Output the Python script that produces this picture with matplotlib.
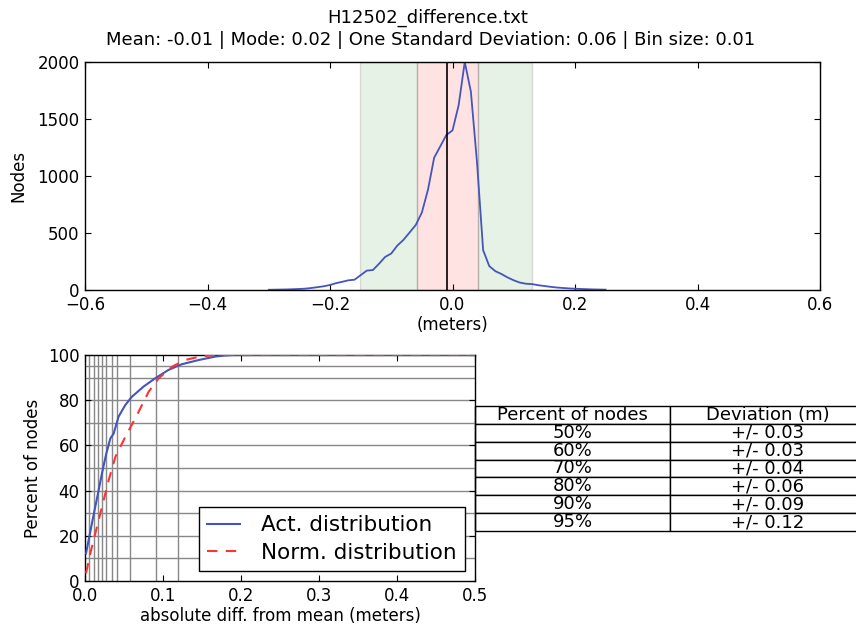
import matplotlib
matplotlib.use("Agg")
import matplotlib.pyplot as plt

# ---------------- data ----------------
title_file = "H12502_difference.txt"
title_stats = "Mean: -0.01 | Mode: 0.02 | One Standard Deviation: 0.06 | Bin size: 0.01"

hist_x = [-0.30, -0.29, -0.28, -0.27, -0.26, -0.25, -0.24, -0.23, -0.22, -0.21,
          -0.20, -0.19, -0.18, -0.17, -0.16, -0.15, -0.14, -0.13, -0.12, -0.11,
          -0.10, -0.09, -0.08, -0.07, -0.06, -0.05, -0.04, -0.03, -0.02, -0.01,
          0.00, 0.01, 0.02, 0.03, 0.04, 0.05, 0.06, 0.07, 0.08, 0.09,
          0.10, 0.11, 0.12, 0.13, 0.14, 0.15, 0.16, 0.17, 0.18, 0.19,
          0.20, 0.21, 0.22, 0.23, 0.24, 0.25]
hist_y = [2, 3, 4, 5, 7, 9, 12, 18, 25, 33,
          44, 60, 72, 85, 90, 130, 170, 175, 230, 290,
          320, 390, 440, 505, 570, 680, 880, 1160, 1260, 1360,
          1400, 1620, 2000, 1740, 1120, 350, 210, 165, 140, 110,
          85, 65, 55, 52, 42, 35, 28, 22, 18, 14,
          11, 9, 7, 5, 4, 3]

mean_val = -0.009
band_inner = [-0.058, 0.042]
band_outer = [-0.151, 0.130]

act_x = [0.0013, 0.0055, 0.011, 0.0167, 0.0218, 0.0269, 0.0325, 0.0367, 0.043, 0.0517,
         0.060, 0.075, 0.090, 0.107, 0.124, 0.146, 0.167, 0.180, 0.190, 0.5]
act_y = [12.2, 19.6, 29.2, 38.8, 47.7, 55.8, 63.1, 65.2, 72.7, 77.9,
         81.5, 86.0, 89.7, 93.4, 95.9, 97.8, 99.3, 99.8, 100, 100]

norm_x = [0.0013, 0.0068, 0.0154, 0.0218, 0.0304, 0.039, 0.0517, 0.0645, 0.0817, 0.0945,
          0.1115, 0.1286, 0.146, 0.167, 0.5]
norm_y = [3.4, 12.2, 24.0, 32.9, 44.7, 55.0, 63.8, 72.0, 83.8, 89.7,
          94.8, 97.8, 99.2, 100, 100]

pct_levels = [10, 20, 30, 40, 50, 60, 70, 80, 90, 95]
pct_values = [0.0055, 0.011, 0.0167, 0.022, 0.027, 0.034, 0.041, 0.058, 0.091, 0.119]

table_header = ["Percent of nodes", "Deviation (m)"]
table_pct = ["50%", "60%", "70%", "80%", "90%", "95%"]
table_dev = ["+/- 0.03", "+/- 0.03", "+/- 0.04", "+/- 0.06", "+/- 0.09", "+/- 0.12"]

# ---------------- style ----------------
plt.rcParams.update({
    "font.family": ["DejaVu Sans"],
    "font.size": 12,
    "xtick.direction": "in",
    "ytick.direction": "in",
    "xtick.top": True,
    "ytick.right": True,
    "xtick.major.size": 4,
    "ytick.major.size": 4,
    "xtick.major.pad": 4,
    "ytick.major.pad": 4,
    "axes.linewidth": 1.0,
})

W, H = 856, 625
fig = plt.figure(figsize=(W / 100, H / 100), dpi=100)

def box(l, t, r, b):
    return [l / W, 1 - b / H, (r - l) / W, (b - t) / H]

# ---------------- top histogram ----------------
ax1 = fig.add_axes(box(85, 62, 820, 290))
ax1.axvspan(band_outer[0], band_inner[0], facecolor=(0, 0.5, 0, 0.1), edgecolor=(0, 0, 0, 0.12), lw=1)
ax1.axvspan(band_inner[1], band_outer[1], facecolor=(0, 0.5, 0, 0.1), edgecolor=(0, 0, 0, 0.12), lw=1)
ax1.axvspan(band_inner[0], band_inner[1], facecolor=(1, 0, 0, 0.11), edgecolor=(0, 0, 0, 0.15), lw=1)
ax1.plot(hist_x, hist_y, color="#4455bb", lw=1.3)
ax1.axvline(mean_val, color="black", lw=1.2)
ax1.set_xlim(-0.6, 0.6)
ax1.set_ylim(0, 2000)
ax1.set_xticks([-0.6, -0.4, -0.2, 0.0, 0.2, 0.4, 0.6])
ax1.set_yticks([0, 500, 1000, 1500, 2000])
ax1.set_xlabel("(meters)", labelpad=2)
ax1.set_ylabel("Nodes", labelpad=7)

fig.text(428 / W, 1 - 18 / H, title_file, ha="center", va="center", fontsize=13)
fig.text(431 / W, 1 - 40 / H, title_stats, ha="center", va="center", fontsize=13)

# ---------------- bottom CDF ----------------
ax2 = fig.add_axes(box(85, 355, 475, 581))
for lev in pct_levels:
    ax2.axhline(lev, color="#888888", lw=1, zorder=1)
for val in pct_values:
    ax2.axvline(val, color="#888888", lw=1, zorder=1)
ax2.plot(act_x, act_y, color="#4455bb", lw=1.5, label="Act. distribution", zorder=3)
ax2.plot(norm_x, norm_y, color="#ff3333", lw=1.5, ls=(0, (5, 4)), label="Norm. distribution", zorder=3)
ax2.set_xlim(0, 0.5)
ax2.set_ylim(0, 100)
ax2.set_xticks([0.0, 0.1, 0.2, 0.3, 0.4, 0.5])
ax2.set_yticks([0, 20, 40, 60, 80, 100])
ax2.set_xlabel("absolute diff. from mean (meters)", labelpad=2)
ax2.set_ylabel("Percent of nodes", labelpad=4)
leg = ax2.legend(loc="lower right", fontsize=15.5, fancybox=False, framealpha=1,
                 edgecolor="black", handlelength=1.5, handletextpad=1.0,
                 borderaxespad=0.45, borderpad=0.4, labelspacing=0.35)
leg.get_frame().set_linewidth(1.0)

cell_text = [[p, d] for p, d in zip(table_pct, table_dev)]
tb = ax2.table(cellText=cell_text, colLabels=table_header, cellLoc="center",
               bbox=[1.0, (581 - 531) / 226, 1.0, (531 - 406) / 226])
tb.auto_set_font_size(False)
tb.set_fontsize(13)
for cell in tb.get_celld().values():
    cell.set_edgecolor("black")
    cell.set_linewidth(1.0)

fig.savefig("out.png", dpi=100)
